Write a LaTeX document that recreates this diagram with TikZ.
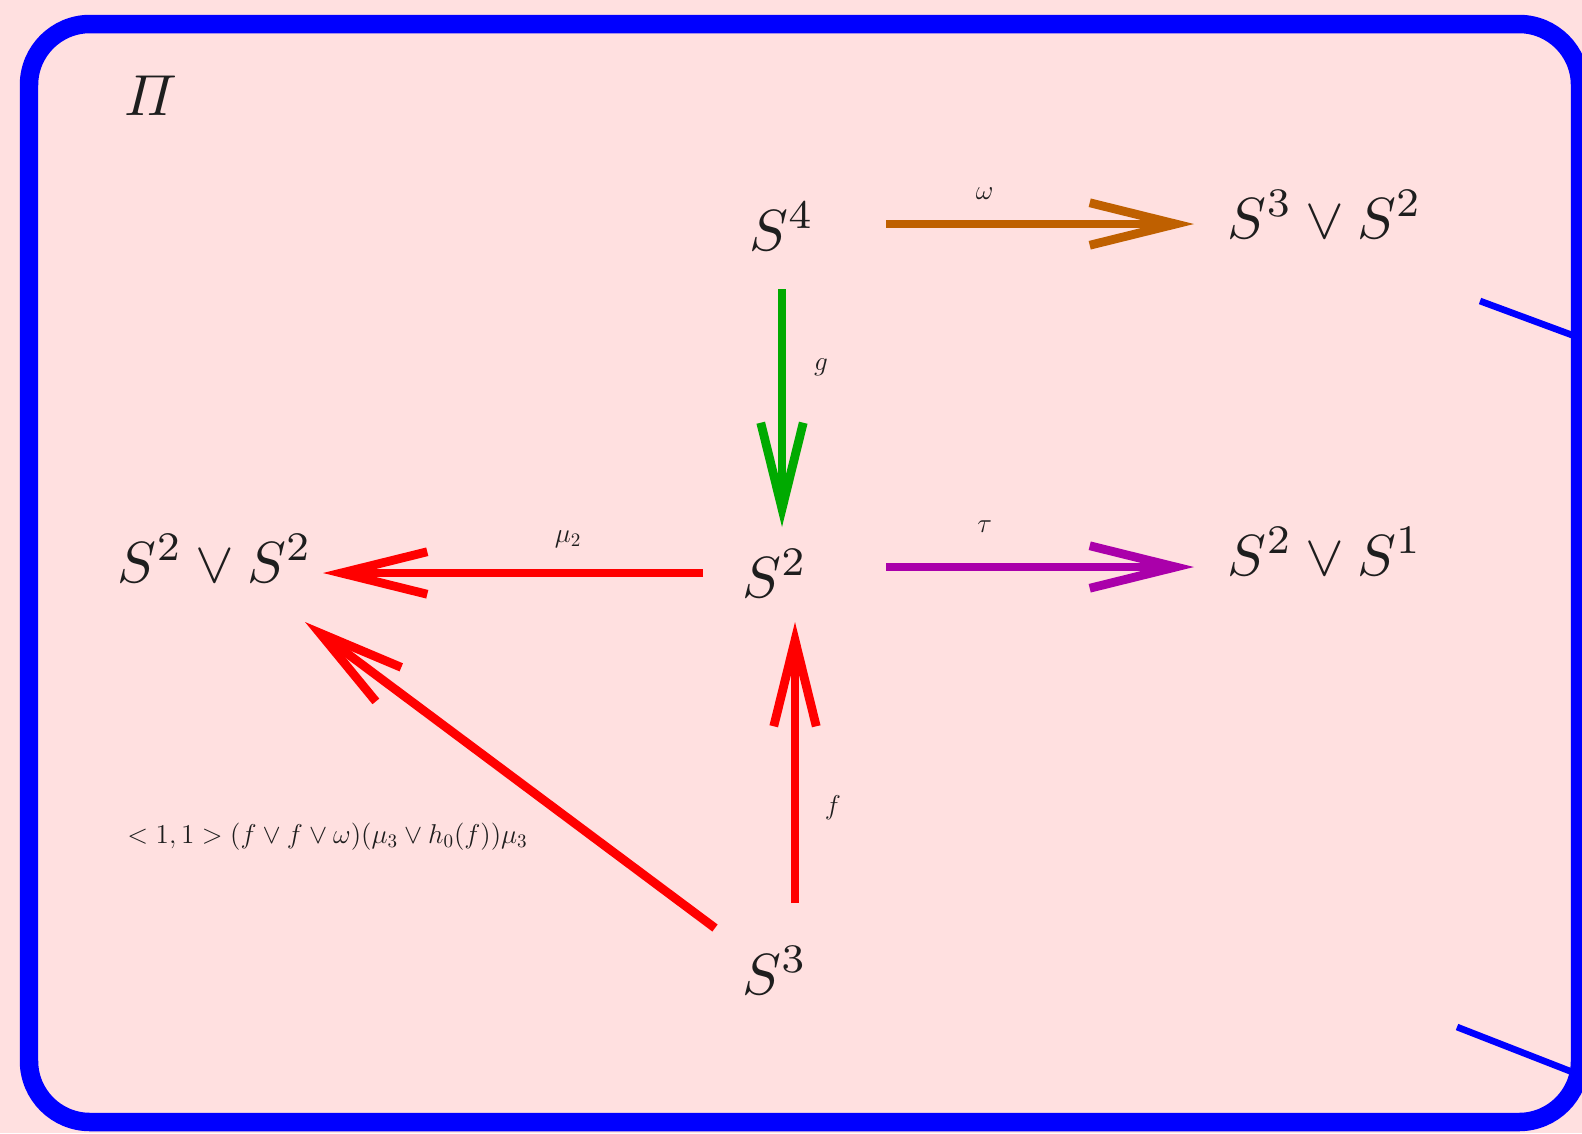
\documentclass[tikz,border=0pt]{standalone}
\usepackage{fix-cm}
\usepackage{amsmath}
\usetikzlibrary{arrows.meta, calc}
\definecolor{framePink}{RGB}{255,224,224}
\definecolor{frameBlue}{RGB}{0,0,255}
\definecolor{mapBrown}{RGB}{191,96,0}
\definecolor{mapGreen}{RGB}{0,170,0}
\definecolor{mapPurple}{RGB}{170,0,170}
\definecolor{mapRed}{RGB}{255,0,0}
\definecolor{inkGray}{RGB}{30,30,30}
\newcommand{\bigsp}[1]{\scalebox{3.3}{$#1$}}

\begin{document}
\begin{tikzpicture}[
    x=0.02cm, y=-0.02cm,
    space/.style={anchor=base, inner sep=0pt, text=inkGray},
    lbl/.style={inner sep=0pt, text=inkGray, font=\fontsize{15.5}{18}\selectfont},
    map/.style={line width=5pt, -{Straight Barb[length=1.72cm, width=0.85cm]}}
]
    \useasboundingbox (0,0) rectangle (1582,1133);
    \fill[framePink] (0,0) rectangle (1582,1133);

    \node[space] (pi) at (151,115) {\bigsp{\varPi}};
    \node[space] (s4) at (782,250) {\bigsp{S^4}};
    \node[space] (s3s2) at (1325,238) {\bigsp{S^3\vee S^2}};
    \node[space] (s2) at (775,597) {\bigsp{S^2}};
    \node[space] (s2s1) at (1325,575) {\bigsp{S^2\vee S^1}};
    \node[space] (s2s2) at (215,582) {\bigsp{S^2\vee S^2}};
    \node[space] (s3) at (775,994) {\bigsp{S^3}};

    \draw[map, draw=mapBrown] ($(s4.base)+(104,-26)$) -- node[lbl, pos=0.32, yshift=0.6cm] {$\omega$} ($(s3s2.base)+(-131,-14)$);
    \draw[map, draw=mapGreen] ($(s4.base)+(0,39)$) -- node[lbl, pos=0.33, xshift=0.78cm] {$g$} ($(s2.base)+(7,-70)$);
    \draw[map, draw=mapPurple] ($(s2.base)+(111,-30)$) -- node[lbl, pos=0.32, yshift=0.8cm] {$\tau$} ($(s2s1.base)+(-131,-8)$);
    \draw[map, draw=mapRed] ($(s2.base)+(-72,-24)$) -- node[lbl, pos=0.355, yshift=0.68cm] {$\mu_2$} ($(s2s2.base)+(108,-9)$);
    \draw[map, draw=mapRed] ($(s3.base)+(20,-91)$) -- node[lbl, pos=0.34, xshift=0.76cm] {$f$} ($(s2.base)+(20,25)$);
    \draw[map, draw=mapRed] ($(s3.base)+(-60,-66)$) -- node[lbl, pos=0.3, anchor=east, xshift=-1.2cm] {$<1,1>(f\vee f\vee\omega)(\mu_3\vee h_0(f))\mu_3$} ($(s2s2.base)+(90,40)$);

    % frame and the two stray strokes on the right
    \draw[frameBlue, line width=3.8pt] (1480,301) -- (1580,338);
    \draw[frameBlue, line width=3.8pt] (1457,1027) -- (1580,1075);
    \draw[frameBlue, line width=0.37cm, rounded corners=1.22cm] (29,24) rectangle (1580,1122);
\end{tikzpicture}
\end{document}
